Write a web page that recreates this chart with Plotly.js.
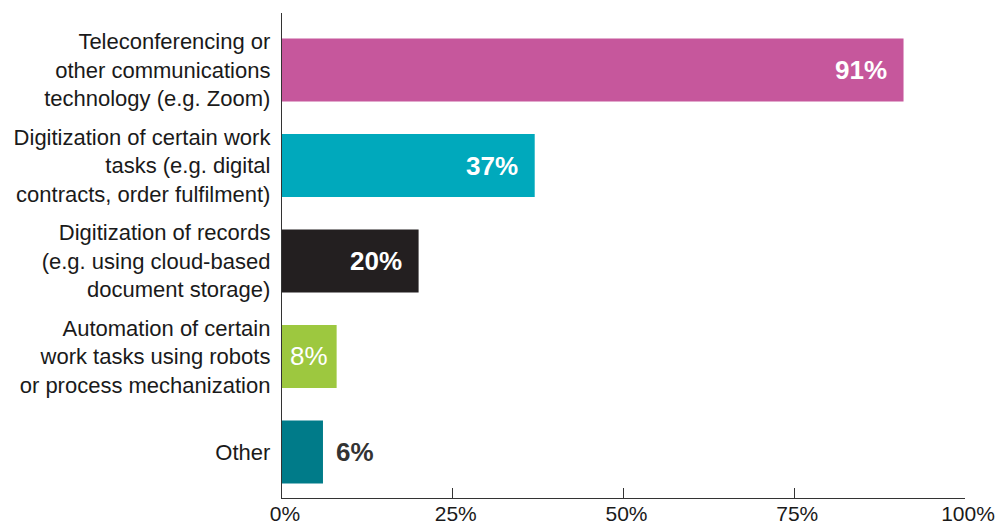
<!DOCTYPE html>
<html>
<head>
<meta charset="utf-8">
<script src="https://cdn.plot.ly/plotly-3.0.1.min.js"></script>
<style>html,body{margin:0;padding:0;background:#fff;}#chart{width:995px;height:529px;}</style>
</head>
<body>
<div id="chart"></div>
<script>
// Categories listed bottom-to-top
var categories = [
  "Other",
  "Automation of certain<br>work tasks using robots<br>or process mechanization",
  "Digitization of records<br>(e.g. using cloud-based<br>document storage)",
  "Digitization of certain work<br>tasks (e.g. digital<br>contracts, order fulfilment)",
  "Teleconferencing or<br>other communications<br>technology (e.g. Zoom)"
];
var values = [6, 8, 20, 37, 91];
var valueLabels = ["6%", "8%", "20%", "37%", "91%"];
var barColors = ["#007B89", "#9DC83F", "#231F20", "#00A9BC", "#C6579C"];
var xTicks = [0, 25, 50, 75, 100];

var FONT = "Liberation Sans, Arial, Helvetica, sans-serif";

var trace = {
  type: "bar",
  orientation: "h",
  y: categories,
  x: values,
  marker: {color: barColors, line: {width: 0}},
  hoverinfo: "skip"
};

var annotations = values.map(function(v, i) {
  if (v >= 15) {
    return {x: v, y: categories[i], xref: "x", yref: "y", text: valueLabels[i],
      showarrow: false, xanchor: "right", yanchor: "middle", xshift: -15,
      font: {family: FONT, size: 26, color: "#ffffff", weight: "bold"}};
  } else if (v >= 7) {
    return {x: v / 2, y: categories[i], xref: "x", yref: "y", text: valueLabels[i],
      showarrow: false, xanchor: "center", yanchor: "middle",
      font: {family: FONT, size: 26, color: "#ffffff"}};
  }
  return {x: v, y: categories[i], xref: "x", yref: "y", text: valueLabels[i],
    showarrow: false, xanchor: "left", yanchor: "middle", xshift: 11,
    font: {family: FONT, size: 26, color: "#333333", weight: "bold"}};
});

var layout = {
  width: 995, height: 529,
  margin: {l: 282, r: 30, t: 13, b: 31, pad: 0},
  paper_bgcolor: "#ffffff", plot_bgcolor: "#ffffff",
  showlegend: false,
  bargap: 0.34,
  font: {family: FONT, color: "#1a1a1a"},
  xaxis: {
    range: [0, 100], tickvals: xTicks, ticktext: xTicks.map(function(t){return t + "%";}),
    showgrid: false, zeroline: false, showline: true, linecolor: "#333333", linewidth: 1.2,
    ticks: "inside", ticklen: 10, tickcolor: "#333333", tickwidth: 1.2,
    tickfont: {family: FONT, size: 21, color: "#1a1a1a"},
    ticklabelstandoff: -3, ticklabelshift: 3, ticklabeloverflow: "allow",
    fixedrange: true
  },
  yaxis: {
    type: "category", categoryorder: "array", categoryarray: categories,
    range: [-0.482, 4.597],
    showgrid: false, zeroline: false, showline: true, linecolor: "#333333", linewidth: 1.2,
    ticks: "", ticklabelstandoff: 6,
    tickfont: {family: FONT, size: 22, color: "#1a1a1a"},
    fixedrange: true
  },
  annotations: annotations
};

Plotly.newPlot("chart", [trace], layout, {displayModeBar: false, staticPlot: true});
</script>
</body>
</html>
